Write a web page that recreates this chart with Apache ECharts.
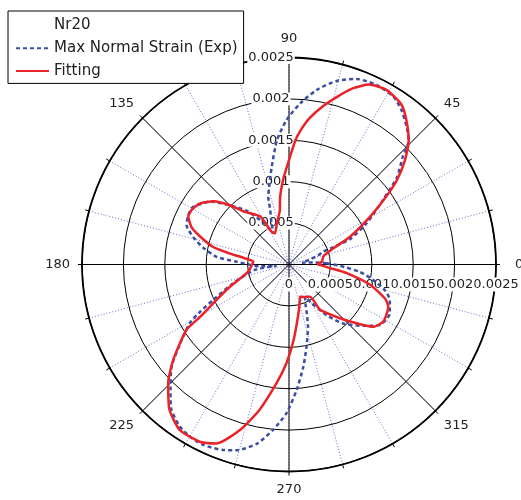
<!DOCTYPE html>
<html>
<head>
<meta charset="utf-8">
<script src="https://cdn.jsdelivr.net/npm/echarts@6/dist/echarts.min.js"></script>
<style>
  html, body { margin: 0; padding: 0; background: #fff; }
  #chart { width: 521px; height: 500px; }
</style>
</head>
<body>
<div id="chart"></div>
<script>
// Radial scale ticks (strain)
const radiusTicks = [0, 0.0005, 0.001, 0.0015, 0.002, 0.0025];

// Measured maximum normal strain vs. direction (degrees)
const expAngle = [2, 5, 8, 13, 17, 20.5, 21.5, 22.5, 28, 34.5, 39, 43.5, 46, 49.5, 54, 58, 64, 70, 75.5, 81,
  86, 91, 95.5, 100, 107, 109, 113, 116.5, 121, 128, 135, 141, 149, 154, 159, 164, 169, 174, 177, 180.5,
  183.5, 186, 189, 198.5, 205, 208, 210.5, 216, 221, 227.5, 231, 236, 240, 244.5, 250.5, 254.5, 260, 264.5,
  269, 273.5, 278, 282, 287, 290, 293, 296.5, 300, 306.5, 312.5, 320.5, 326.5, 334, 340.5, 345, 349.5, 354, 358.5];
const expStrain = [0.000455, 0.00029, 0.00016, 0.00024, 0.00036, 0.000442, 0.000576, 0.000793, 0.001062, 0.00138,
  0.001679, 0.001897, 0.002082, 0.002188, 0.002309, 0.002386, 0.002413, 0.002385, 0.00229, 0.002134,
  0.001952, 0.001745, 0.001511, 0.001199, 0.000856, 0.000697, 0.00054, 0.000421, 0.00058, 0.00082,
  0.00101, 0.00121, 0.00135, 0.001355, 0.001325, 0.001204, 0.001053, 0.000878, 0.000633, 0.000471,
  0.00036, 0.00015, 0.00042, 0.00071, 0.00101, 0.001216, 0.00139, 0.001624, 0.001879, 0.002118,
  0.002257, 0.00236, 0.002398, 0.002413, 0.002377, 0.002327, 0.002194, 0.002007, 0.001797, 0.001518,
  0.001246, 0.001016, 0.000786, 0.000627, 0.000507, 0.000435, 0.00053, 0.000761, 0.000966, 0.001165,
  0.00132, 0.001355, 0.001292, 0.001199, 0.001035, 0.000862, 0.000616];

// Fitted curve
const fitAngle = [1, 5, 13, 20, 24.5, 30.5, 35, 38, 42, 46, 51, 55, 61, 66, 70, 74, 78, 82, 85, 87,
  90, 94, 98, 99.5, 106.5, 114, 118, 121, 130, 135, 140, 145.5, 150.5, 154.5, 159, 162.5, 167, 169.5, 172, 175.5,
  181, 190, 202, 210.5, 212.5, 219.5, 224.5, 230.5, 236.5, 243.5, 248, 253.5, 258.5, 264, 268.5, 273.5, 281, 287,
  289, 296, 303, 304.5, 313.5, 319, 323.5, 329, 337, 340.5, 346, 351.5, 355, 358];
const fitStrain = [0.00034, 0.0004, 0.000425, 0.00057, 0.00081, 0.001135, 0.001436, 0.001653, 0.001885, 0.002082,
  0.002251, 0.002363, 0.002415, 0.002378, 0.002266, 0.002106, 0.00195, 0.001784, 0.001629, 0.001505,
  0.001262, 0.001023, 0.000786, 0.000667, 0.000519, 0.000413, 0.000448, 0.000675, 0.00083, 0.001012,
  0.001188, 0.001304, 0.001347, 0.001347, 0.001261, 0.001126, 0.00094, 0.000725, 0.000536, 0.000432,
  0.00045, 0.000499, 0.000813, 0.001246, 0.001467, 0.001812, 0.002046, 0.00227, 0.002394, 0.002395,
  0.00233, 0.002085, 0.001792, 0.001442, 0.001193, 0.000913, 0.0006, 0.000449, 0.000411, 0.000437,
  0.000464, 0.000664, 0.000895, 0.001083, 0.001266, 0.001332, 0.001303, 0.00123, 0.00101, 0.000705,
  0.000498, 0.0004];

// [radius, angle] pairs, closed back to the first point
function closedLoop(angles, values) {
  const pts = angles.map((a, i) => [values[i], a]);
  pts.push(pts[0].slice());
  return pts;
}

const FONT = 'DejaVu Sans';
const CENTER = [289, 264.5];
const RADIUS = 207;
const R_MAX = radiusTicks[radiusTicks.length - 1];
const STEP = radiusTicks[1] - radiusTicks[0];
const px = v => RADIUS * v / R_MAX;
const fmt = v => String(+Number(v).toFixed(4));
const noMarker = { color: 'rgba(0,0,0,0)', borderWidth: 0, opacity: 0 };

// Horizontal scale labels are split over two overlaid polar systems so that
// neighbouring labels never collide inside one axis.
const evenTicks = radiusTicks.filter((_, i) => i % 2 === 0);   // 0, 0.001, 0.002
const oddTicks = radiusTicks.filter((_, i) => i % 2 === 1);    // 0.0005, 0.0015, 0.0025

const hiddenAngle = (polarIndex) => ({
  polarIndex, type: 'value', min: 0, max: 360, startAngle: 0, clockwise: false,
  axisLine: { show: false }, axisTick: { show: false }, axisLabel: { show: false }, splitLine: { show: false }
});
const horizLabelAxis = (polarIndex, ticks, z) => ({
  polarIndex, type: 'value',
  min: ticks[0], max: ticks[ticks.length - 1], interval: 2 * STEP,
  z,
  axisLine: { show: false }, axisTick: { show: false }, splitLine: { show: false },
  axisLabel: {
    showMinLabel: true, showMaxLabel: true,
    margin: -13, verticalAlign: 'top', align: 'center',
    fontSize: 13, color: '#222', fontFamily: FONT,
    backgroundColor: '#fff', padding: [1, 1, 0, 1],
    formatter: fmt
  }
});

const chart = echarts.init(document.getElementById('chart'), null, { renderer: 'canvas' });

chart.setOption({
  animation: false,
  backgroundColor: '#fff',
  textStyle: { fontFamily: FONT },
  legend: {
    orient: 'vertical',
    left: 8,
    top: 11,
    padding: [7, 6, 5, 7],
    itemGap: 7.7,
    itemWidth: 33,
    itemHeight: 14,
    borderColor: '#000',
    borderWidth: 1,
    backgroundColor: '#fff',
    selectedMode: false,
    itemStyle: noMarker,
    textStyle: { fontSize: 15, color: '#222', fontFamily: FONT },
    data: [
      { name: 'Nr20', icon: 'none' },
      { name: 'Max Normal Strain (Exp)', itemStyle: noMarker },
      { name: 'Fitting', itemStyle: noMarker }
    ]
  },
  polar: [
    { center: CENTER, radius: RADIUS },
    { center: CENTER, radius: RADIUS },
    { center: CENTER, radius: [0, px(evenTicks[evenTicks.length - 1])] },
    { center: CENTER, radius: [px(oddTicks[0]), px(oddTicks[oddTicks.length - 1])] }
  ],
  angleAxis: [
    {
      polarIndex: 0,
      type: 'value',
      min: 0, max: 360, interval: 45,
      startAngle: 0,
      clockwise: false,
      z: 2,
      axisLine: { lineStyle: { color: '#000', width: 1.8 } },
      axisTick: { show: false },
      axisLabel: {
        margin: 12, fontSize: 13, color: '#222', fontFamily: FONT,
        formatter: v => (v === 0 ? '{r|0}' : String(v)),
        rich: { r: { fontSize: 13, fontFamily: FONT, color: '#222', padding: [0, 0, 0, 7] } }
      },
      splitLine: { show: true, lineStyle: { color: '#000', width: 1 } }
    },
    {
      polarIndex: 1,
      type: 'value',
      min: 0, max: 360, interval: 15,
      startAngle: 90,
      clockwise: false,
      z: 1,
      axisLine: { show: false },
      axisTick: { show: true, length: 4, lineStyle: { color: '#000', width: 1 } },
      axisLabel: { show: false },
      splitLine: { show: true, lineStyle: { color: '#6a6acc', width: 1, type: [1, 2] } }
    },
    hiddenAngle(2),
    hiddenAngle(3)
  ],
  radiusAxis: [
    {
      polarIndex: 0,
      type: 'value',
      min: radiusTicks[0],
      max: R_MAX,
      interval: STEP,
      z: 2,
      axisLine: { show: true, lineStyle: { color: '#000', width: 1 } },
      axisTick: { show: false },
      splitLine: { show: true, lineStyle: { color: '#000', width: 1 } },
      axisLabel: { show: false }
    },
    {
      polarIndex: 1,
      type: 'value',
      min: radiusTicks[0],
      max: R_MAX,
      interval: STEP,
      z: 3,
      axisLine: { show: false },
      axisTick: { show: false },
      splitLine: { show: false },
      axisLabel: {
        showMinLabel: false,
        showMaxLabel: true,
        margin: 18, align: 'center', verticalAlign: 'middle',
        fontSize: 13, color: '#222', fontFamily: FONT,
        backgroundColor: '#fff', padding: [0, 1],
        formatter: fmt
      }
    },
    horizLabelAxis(2, evenTicks, 4),
    horizLabelAxis(3, oddTicks, 3)
  ],
  series: [
    {
      name: 'Nr20',
      type: 'line',
      coordinateSystem: 'polar',
      polarIndex: 0,
      data: []
    },
    {
      name: 'Max Normal Strain (Exp)',
      type: 'line',
      coordinateSystem: 'polar',
      polarIndex: 0,
      symbol: 'none',
      smooth: 0.2,
      z: 5,
      lineStyle: { color: '#3a4ea6', width: 2.5, type: [4, 3] },
      itemStyle: { color: '#3a4ea6' },
      data: closedLoop(expAngle, expStrain)
    },
    {
      name: 'Fitting',
      type: 'line',
      coordinateSystem: 'polar',
      polarIndex: 0,
      symbol: 'none',
      smooth: 0.2,
      z: 6,
      lineStyle: { color: '#ec2228', width: 2.5 },
      itemStyle: { color: '#ec2228' },
      data: closedLoop(fitAngle, fitStrain)
    }
  ]
});
</script>
</body>
</html>
